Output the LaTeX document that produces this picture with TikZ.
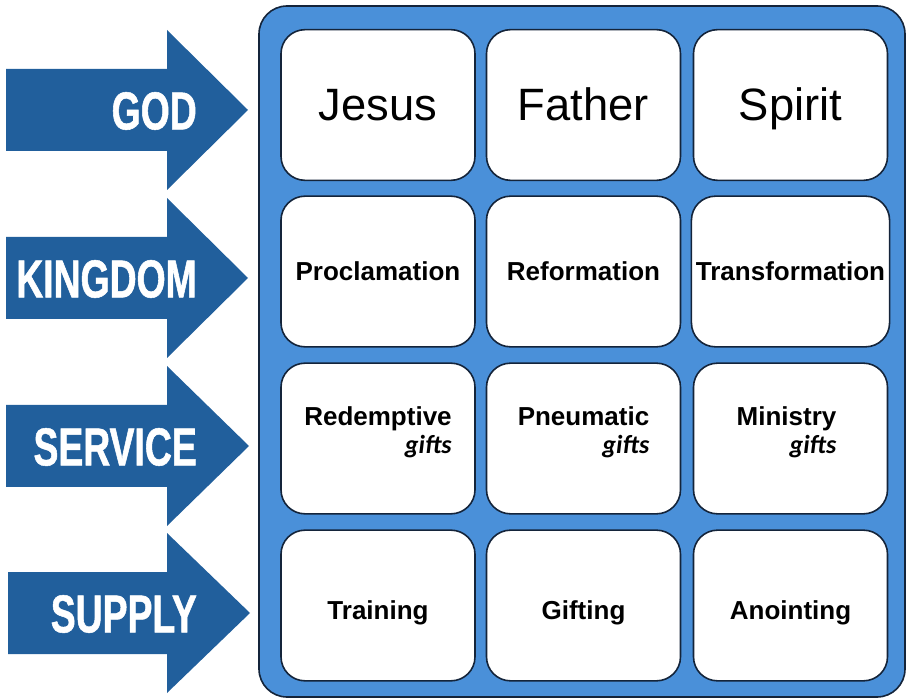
\documentclass[tikz,border=0pt]{standalone}
\usepackage{fontspec}
\setmainfont{Liberation Sans}
\newfontfamily\arrowfont[FakeStretch=0.7, BoldFeatures={FakeBold=1}]{Liberation Sans}
\newfontfamily\giftfont{Carlito}
\usepackage{tikz}
\usetikzlibrary{positioning}
\definecolor{panelblue}{RGB}{74,144,217}
\definecolor{arrowblue}{RGB}{33,95,156}
\definecolor{edgenavy}{RGB}{20,36,58}
\tikzstyle{cell} = [rectangle, rounded corners=18pt, minimum width=145.5pt, minimum height=113pt, draw=edgenavy, line width=1.2pt, fill=white, align=center]
\tikzstyle{big} = [font=\fontsize{34}{38}\selectfont, text height=28pt, text depth=4.5pt]
\tikzstyle{term} = [font=\bfseries\fontsize{19.5}{21}\selectfont]
\tikzstyle{lowterm} = [term, text height=21pt, text depth=0pt]
\tikzstyle{gifts} = [align=right, inner sep=0pt, font=\bfseries\fontsize{19.5}{21}\selectfont]
\tikzstyle{arrowtext} = [anchor=east, inner sep=0pt, text=white, font=\arrowfont\bfseries\fontsize{40}{40}\selectfont]
\tikzstyle{bigarrow} = [fill=arrowblue]

\begin{document}
\begin{tikzpicture}[x=0.75pt, y=-0.75pt]
      \useasboundingbox (0,0) rectangle (907,698);

      % arrows on the left
      \fill[bigarrow] (6,69) -- (167,69) -- (167,30) -- (248,110) -- (167,190) -- (167,151) -- (6,151) -- cycle;
      \fill[bigarrow] (6,237) -- (167,237) -- (167,198) -- (248,278) -- (167,358) -- (167,319) -- (6,319) -- cycle;
      \fill[bigarrow] (6,405) -- (167,405) -- (167,366) -- (249,446) -- (167,526) -- (167,487) -- (6,487) -- cycle;
      \fill[bigarrow] (8,572) -- (167,572) -- (167,533) -- (250,613) -- (167,693) -- (167,654) -- (8,654) -- cycle;
      \node[arrowtext] (god) at (197,111) {GOD};
      \node[arrowtext] (kingdom) at (197,279) {KINGDOM};
      \node[arrowtext] (service) at (197,447) {SERVICE};
      \node[arrowtext] (supply) at (197,614) {SUPPLY};

      % blue panel
      \draw[draw=edgenavy, fill=panelblue, line width=1.2pt, rounded corners=21pt] (259,6) rectangle (905,697);

      % row 1
      \node[cell, big] (jesus) at (378,105) {Jesus};
      \node[cell, big] (father) at (583.5,105) {Father};
      \node[cell, big] (spirit) at (790.5,105) {Spirit};
      % row 2
      \node[cell, term] (procl) at (378,271.5) {Proclamation};
      \node[cell, term] (reform) at (583.5,271.5) {Reformation};
      \node[cell, term] (transf) at (790.5,271.5) {Transformation};
      % row 3
      \node[cell] (redemp) at (378,438.5) {};
      \node[cell] (pneum) at (583.5,438.5) {};
      \node[cell] (minist) at (790.5,438.5) {};
      \node[gifts] at ([yshift=4.5pt]redemp.center) {Redemptive\\{\giftfont\itshape gifts}};
      \node[gifts] at ([yshift=4.5pt]pneum.center) {Pneumatic\\{\giftfont\itshape gifts}};
      \node[gifts] at ([xshift=-3pt, yshift=5pt]minist.center) {Ministry\\{\giftfont\itshape gifts}};
      % row 4
      \node[cell, lowterm] (train) at (378,605.5) {Training};
      \node[cell, lowterm] (gift) at (583.5,605.5) {Gifting};
      \node[cell, lowterm] (anoint) at (790.5,605.5) {Anointing};
\end{tikzpicture}
\end{document}
